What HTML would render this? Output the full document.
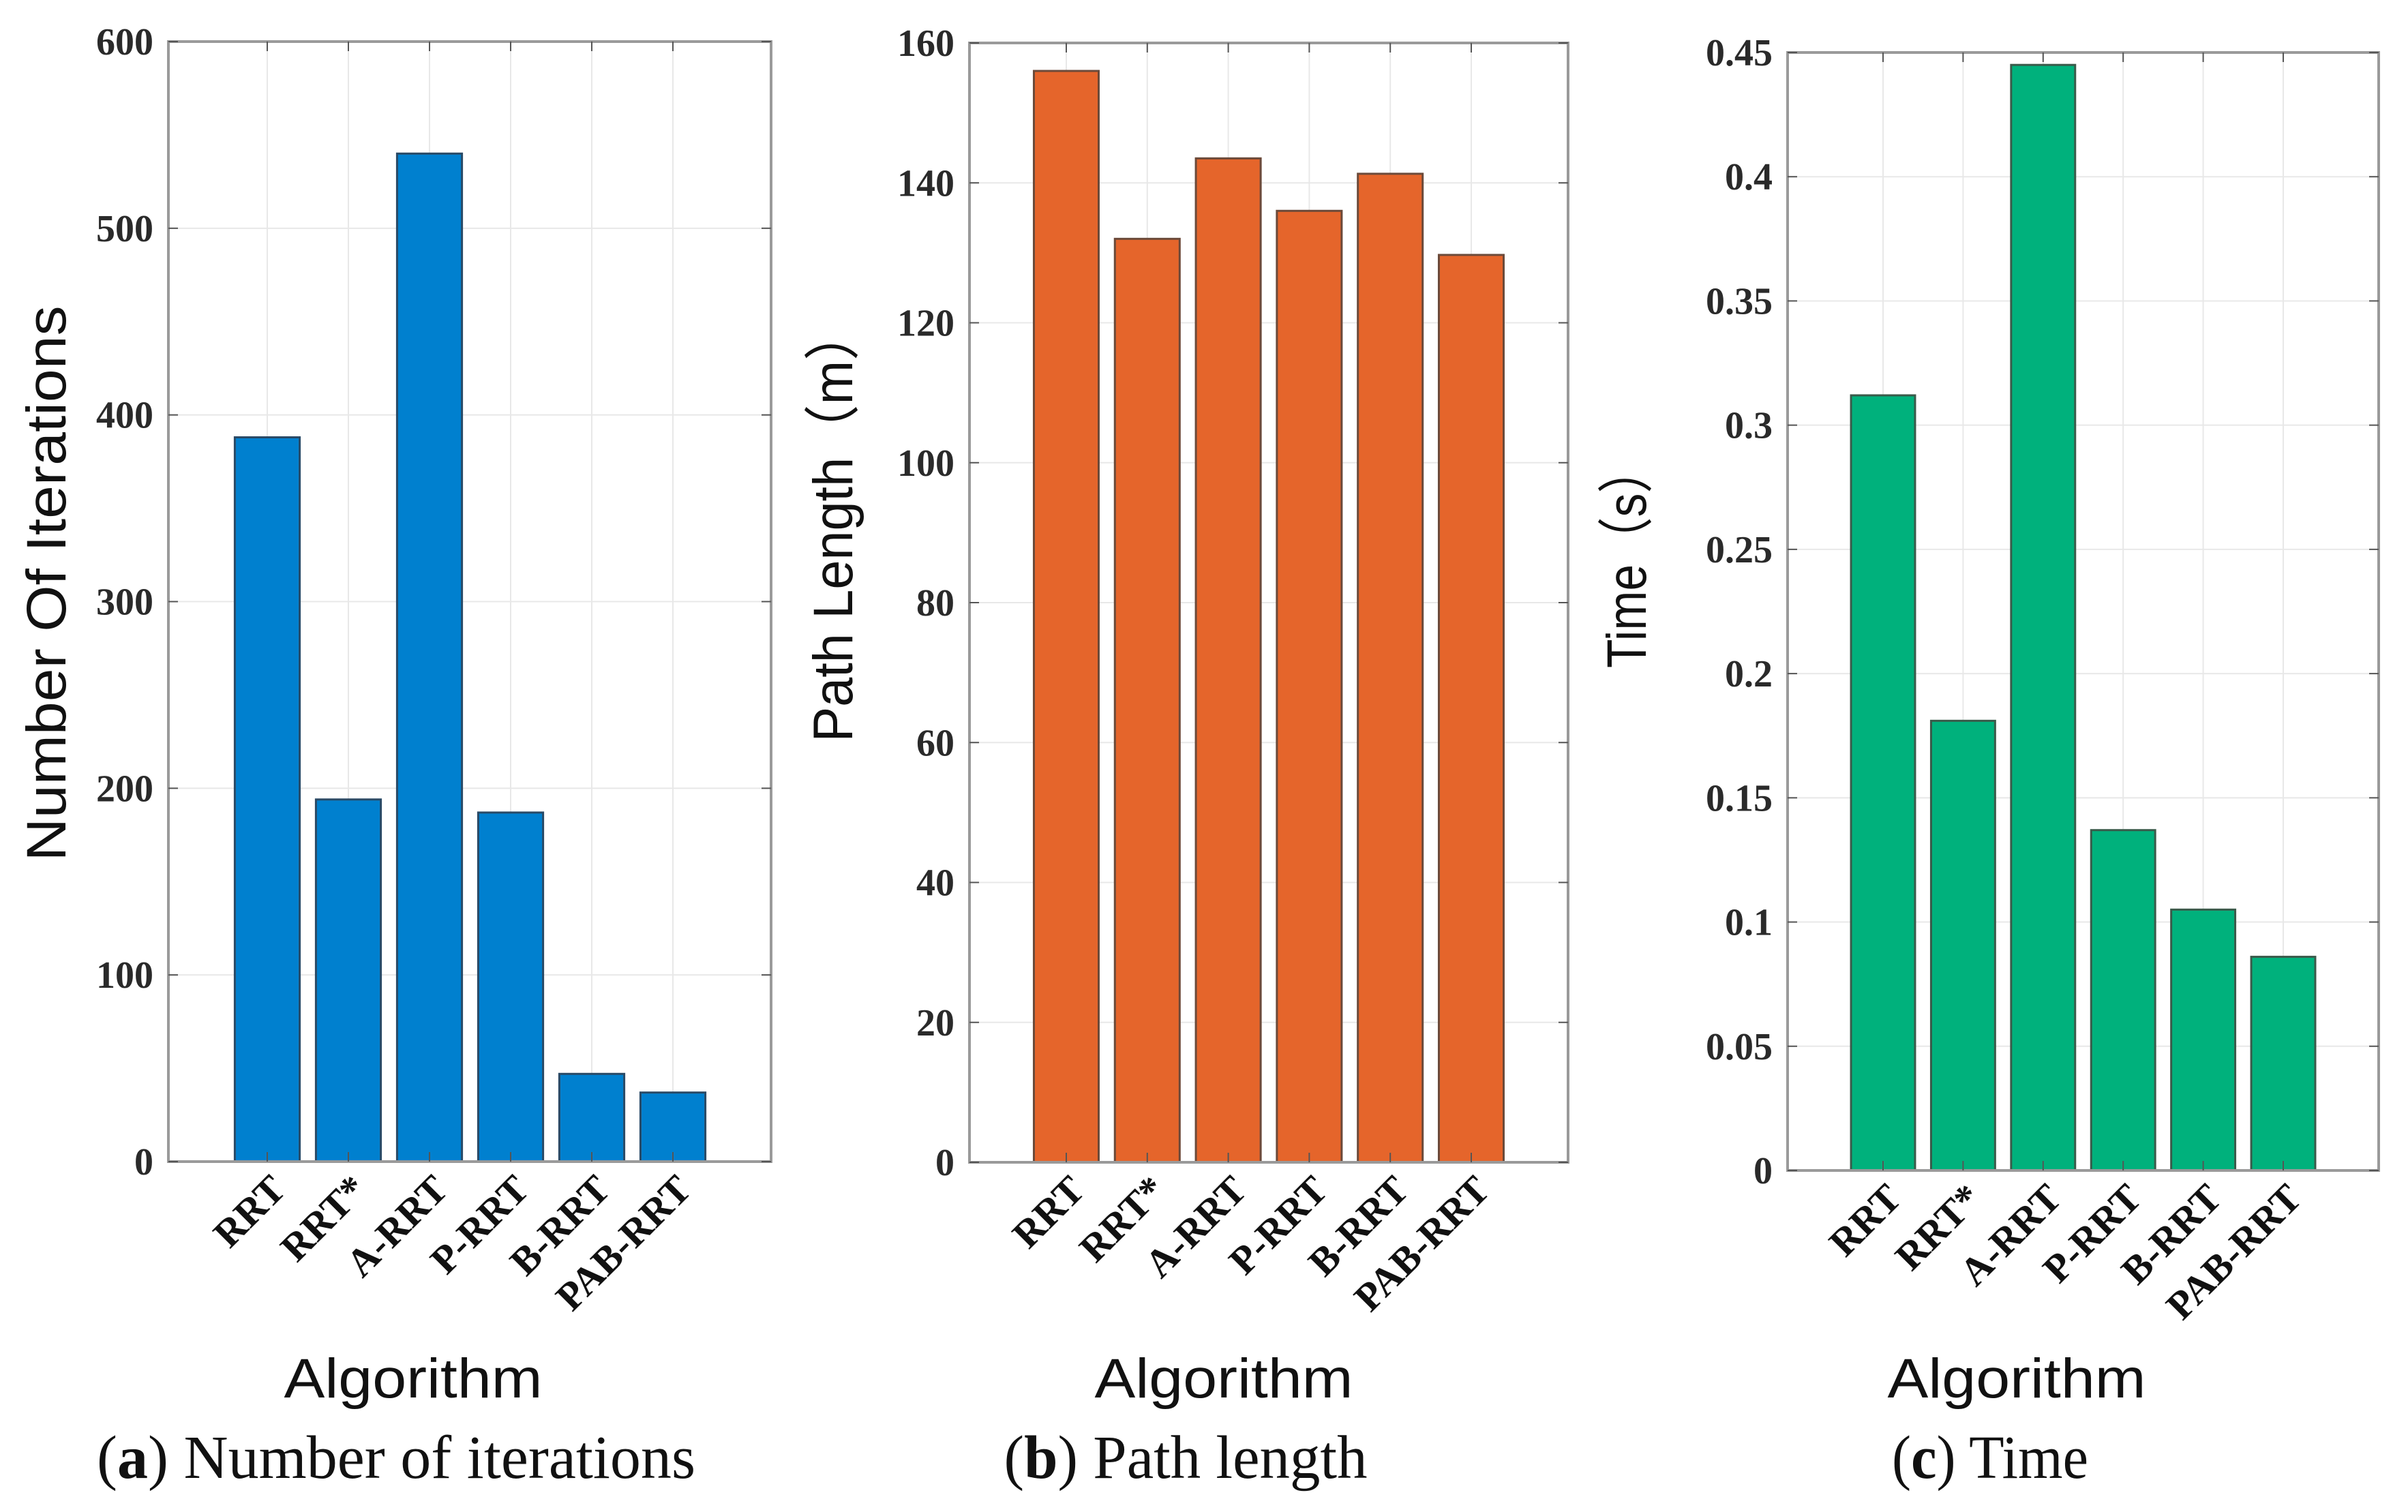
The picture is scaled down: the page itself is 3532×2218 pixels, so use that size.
<!DOCTYPE html>
<html><head><meta charset="utf-8"><style>
html,body{margin:0;padding:0;background:#fff;width:3532px;height:2218px;overflow:hidden}
svg text{fill:#111}
.tick{font-family:"Liberation Serif",serif;font-weight:bold;font-size:56px;fill:#2a2a2a}
.cat{font-family:"Liberation Serif",serif;font-weight:bold;font-size:58px}
.ttl{font-family:"Liberation Sans","Noto Sans CJK SC",sans-serif;font-size:82px}
.cap{font-family:"Liberation Serif",serif;font-size:90px}
</style></head><body>
<svg id="fig" width="3532" height="2218" xmlns="http://www.w3.org/2000/svg"></svg>
<script>
const categories = ["RRT","RRT*","A-RRT","P-RRT","B-RRT","PAB-RRT"];
const iterValues = [388, 194, 540, 187, 47, 37];
const lengthValues = [156, 132, 143.5, 136, 141.3, 129.7];
const timeValues = [0.312, 0.181, 0.445, 0.137, 0.105, 0.086];
const iterTicks = [0,100,200,300,400,500,600];
const iterTickLabels = ["0","100","200","300","400","500","600"];
const lengthTicks = [0,20,40,60,80,100,120,140,160];
const lengthTickLabels = ["0","20","40","60","80","100","120","140","160"];
const timeTicks = [0,0.05,0.1,0.15,0.2,0.25,0.3,0.35,0.4,0.45];
const timeTickLabels = ["0","0.05","0.1","0.15","0.2","0.25","0.3","0.35","0.4","0.45"];

const NS="http://www.w3.org/2000/svg";
const svg=document.getElementById('fig');
function mk(tag,attrs,parent){const e=document.createElementNS(NS,tag);for(const k in attrs)e.setAttribute(k,attrs[k]);(parent||svg).appendChild(e);return e;}

const panels=[
 {id:'iterations',vals:iterValues,ticks:iterTicks,labels:iterTickLabels,max:600,L:247,R:1131,T:61,B:1704,first:392,pitch:119,color:'#0080cf',stroke:'#2a4a66',
  ytitle:'Number Of Iterations',ytLen:815,ytx:96,yty:856,xt:606,capx:581,capLen:878,capL:'a',capT:' Number of iterations'},
 {id:'path-length',vals:lengthValues,ticks:lengthTicks,labels:lengthTickLabels,max:160,L:1422,R:2300,T:63,B:1705,first:1564,pitch:118.8,color:'#e5652b',stroke:'#6b4a3a',
  ytitle:'Path Length（m）',ytLen:637,ytx:1250,yty:770,xt:1795,capx:1739,capLen:533,capL:'b',capT:' Path length'},
 {id:'time',vals:timeValues,ticks:timeTicks,labels:timeTickLabels,max:0.45,L:2622,R:3489,T:77,B:1717,first:2762,pitch:117.4,color:'#00b17c',stroke:'#3a5a4a',
  ytitle:'Time（s）',ytLen:326,ytx:2414,yty:817,xt:2958,capx:2919,capLen:288,capL:'c',capT:' Time'}
];

panels.forEach(p=>{
  const g=mk('g',{});
  
  
  const y=v=>p.B-(v/p.max)*(p.B-p.T);
  const x=i=>p.first+i*p.pitch;
  mk('rect',{x:p.L,y:p.T,width:p.R-p.L,height:p.B-p.T,fill:'#fff'},g);
  p.ticks.forEach(t=>{
    const l=mk('line',{x1:p.L,x2:p.R,y1:y(t),y2:y(t),stroke:'#e8e8e8','stroke-width':2},g);
    
    
  });
  categories.forEach((c,i)=>{
    mk('line',{x1:x(i),x2:x(i),y1:p.T,y2:p.B,stroke:'#e8e8e8','stroke-width':2},g);
  });
  p.vals.forEach((v,i)=>{
    const bw=p.pitch*0.8;
    const r=mk('rect',{x:x(i)-bw/2,y:y(v),width:bw,height:p.B-y(v),fill:p.color,stroke:p.stroke,'stroke-width':3},g);
    
    
  });
  mk('rect',{x:p.L,y:p.T,width:p.R-p.L,height:p.B-p.T,fill:'none',stroke:'#9a9a9a','stroke-width':4},g);
  p.ticks.forEach((t,k)=>{
    mk('line',{x1:p.L,x2:p.L+14,y1:y(t),y2:y(t),stroke:'#555','stroke-width':2},g);
    mk('line',{x1:p.R,x2:p.R-14,y1:y(t),y2:y(t),stroke:'#555','stroke-width':2},g);
    const tx=mk('text',{x:p.L-22,y:y(t)+19,'text-anchor':'end',class:'tick'},g);
    tx.textContent=p.labels[k];
    
    
  });
  categories.forEach((c,i)=>{
    mk('line',{x1:x(i),x2:x(i),y1:p.B,y2:p.B-14,stroke:'#555','stroke-width':2},g);
    mk('line',{x1:x(i),x2:x(i),y1:p.T,y2:p.T+14,stroke:'#555','stroke-width':2},g);
    const ax=x(i)+30, ay=p.B+44;
    const tx=mk('text',{x:ax,y:ay,'text-anchor':'end',class:'cat',transform:`rotate(-45 ${ax} ${ay})`},g);
    tx.textContent=c;
    
    
  });
  const yt=mk('text',{x:p.ytx,y:p.yty,'text-anchor':'middle',class:'ttl',textLength:p.ytLen,lengthAdjust:'spacingAndGlyphs',transform:`rotate(-90 ${p.ytx} ${p.yty})`},g);
  yt.textContent=p.ytitle;
  
  
  const xt=mk('text',{x:p.xt,y:2050,'text-anchor':'middle',class:'ttl',textLength:379,lengthAdjust:'spacingAndGlyphs'},g);
  xt.textContent='Algorithm';
  
  
  const cp=mk('text',{x:p.capx,y:2168,'text-anchor':'middle',class:'cap',textLength:p.capLen,lengthAdjust:'spacingAndGlyphs'},g);
  
  
  const t1=mk('tspan',{},cp); t1.textContent='(';
  const t2=mk('tspan',{'font-weight':'bold'},cp); t2.textContent=p.capL;
  const t3=mk('tspan',{},cp); t3.textContent=')'+p.capT;
});
</script>
</body></html>
